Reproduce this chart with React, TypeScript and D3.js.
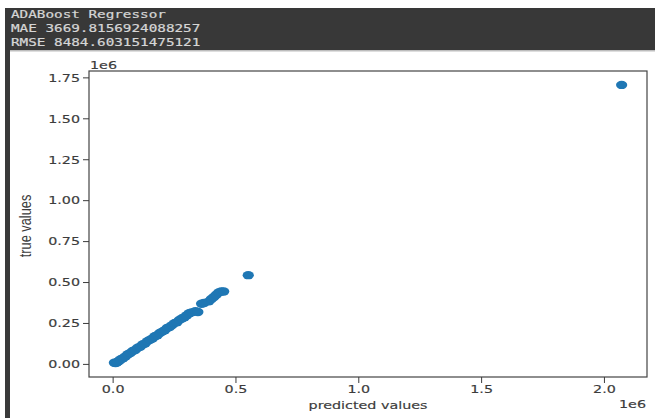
import React, { useEffect, useRef } from 'react'
import * as d3 from 'd3'

// header lines printed above the chart
const headerLines = ['ADABoost Regressor', 'MAE 3669.8156924088257', 'RMSE 8484.603151475121']

// predicted / true values (units of 1e6)
const predicted = [
  0.005, 0.01, 0.015, 0.02, 0.025, 0.03, 0.04, 0.05, 0.06, 0.07, 0.08, 0.09, 0.10, 0.11,
  0.12, 0.13, 0.14, 0.15, 0.16, 0.17, 0.18, 0.19, 0.20, 0.21, 0.22, 0.23, 0.24, 0.25,
  0.26, 0.27, 0.28, 0.29, 0.30, 0.31, 0.32, 0.335, 0.345, 0.36, 0.37, 0.39, 0.40, 0.41,
  0.42, 0.43, 0.44, 0.45, 0.55, 2.07
]
const trueVals = [
  0.010, 0.008, 0.012, 0.018, 0.022, 0.030, 0.038, 0.048, 0.062, 0.070, 0.082, 0.088, 0.102, 0.108,
  0.122, 0.128, 0.142, 0.150, 0.158, 0.172, 0.178, 0.192, 0.200, 0.208, 0.222, 0.228, 0.240, 0.252,
  0.258, 0.272, 0.280, 0.288, 0.300, 0.312, 0.318, 0.325, 0.320, 0.370, 0.375, 0.385, 0.400, 0.412,
  0.425, 0.440, 0.445, 0.445, 0.545, 1.707
]

const xTicks = [0, 0.5, 1.0, 1.5, 2.0]
const xTickLabels = ['0.0', '0.5', '1.0', '1.5', '2.0']
const yTicks = [0, 0.25, 0.5, 0.75, 1.0, 1.25, 1.5, 1.75]
const yTickLabels = ['0.00', '0.25', '0.50', '0.75', '1.00', '1.25', '1.50', '1.75']

export default function App() {
  const ref = useRef<SVGSVGElement>(null)

  useEffect(() => {
    const svg = d3.select(ref.current)
    svg.selectAll('*').remove()

    const left = 89, right = 647, top = 71, bottom = 377
    const sx = 1.35 // the screenshot is stretched sideways

    // header block
    svg.append('rect').attr('x', 5).attr('y', 8).attr('width', 650).attr('height', 42).attr('fill', '#383838')
    svg.append('rect').attr('x', 5).attr('y', 50).attr('width', 650).attr('height', 1.5).attr('fill', '#bdbdbd')
    svg.append('rect').attr('x', 5).attr('y', 50).attr('width', 5).attr('height', 368).attr('fill', '#3a3a3a')

    headerLines.forEach((t, i) => {
      svg.append('text')
        .attr('transform', `translate(11,${18 + i * 14}) scale(${sx},1)`)
        .attr('font-family', 'DejaVu Sans Mono')
        .attr('font-size', 10.6)
        .attr('fill', '#d6d6d6')
        .attr('stroke', '#d6d6d6').attr('stroke-width', 0.2)
        .text(t)
    })

    const xExt = d3.extent(predicted) as [number, number]
    const yExt = d3.extent(trueVals) as [number, number]
    const xPad = (xExt[1] - xExt[0]) * 0.05
    const yPad = (yExt[1] - yExt[0]) * 0.05

    const xScale = d3.scaleLinear().domain([xExt[0] - xPad, xExt[1] + xPad]).range([left, right])
    const yScale = d3.scaleLinear().domain([yExt[0] - yPad, yExt[1] + yPad]).range([bottom, top])

    // points
    svg.append('g')
      .selectAll('ellipse')
      .data(predicted).enter().append('ellipse')
        .attr('cx', d => xScale(d))
        .attr('cy', (d, i) => yScale(trueVals[i]))
        .attr('rx', 5.6)
        .attr('ry', 4.2)
        .attr('fill', '#1f77b4')

    // frame
    svg.append('rect')
      .attr('x', left).attr('y', top)
      .attr('width', right - left).attr('height', bottom - top)
      .attr('fill', 'none').attr('stroke', '#444').attr('stroke-width', 1.2)

    const font = 'DejaVu Sans'
    const tickColor = '#3c3c3c'

    const label = (x: number, y: number, t: string, anchor: string) =>
      svg.append('text')
        .attr('transform', `translate(${x},${y}) scale(${sx},1)`)
        .attr('text-anchor', anchor)
        .attr('font-family', font).attr('font-size', 10.6)
        .attr('fill', tickColor).attr('stroke', tickColor).attr('stroke-width', 0.15)
        .text(t)

    // y ticks
    yTicks.forEach((v, i) => {
      const y = yScale(v)
      svg.append('line').attr('x1', left - 6).attr('x2', left).attr('y1', y).attr('y2', y)
        .attr('stroke', tickColor).attr('stroke-width', 1)
      label(80, y + 3.8, yTickLabels[i], 'end')
    })

    // x ticks
    xTicks.forEach((v, i) => {
      const x = xScale(v)
      svg.append('line').attr('x1', x).attr('x2', x).attr('y1', bottom).attr('y2', bottom + 6)
        .attr('stroke', tickColor).attr('stroke-width', 1)
      label(x, 393, xTickLabels[i], 'middle')
    })

    // offset labels
    label(90, 69, '1e6', 'start')
    label(646, 408, '1e6', 'end')

    // axis labels
    label((left + right) / 2, 409, 'predicted values', 'middle')
    svg.append('text')
      .attr('transform', `translate(31,226) scale(${sx},1) rotate(-90)`)
      .attr('text-anchor', 'middle')
      .attr('font-family', 'Liberation Sans Narrow, Liberation Sans')
      .attr('font-size', 12.8).attr('fill', tickColor)
      .text('true values')
  }, [])

  return (
    <svg ref={ref} width={655} height={418}
      style={{ position: 'absolute', left: 0, top: 0, background: '#fff' }} />
  )
}
